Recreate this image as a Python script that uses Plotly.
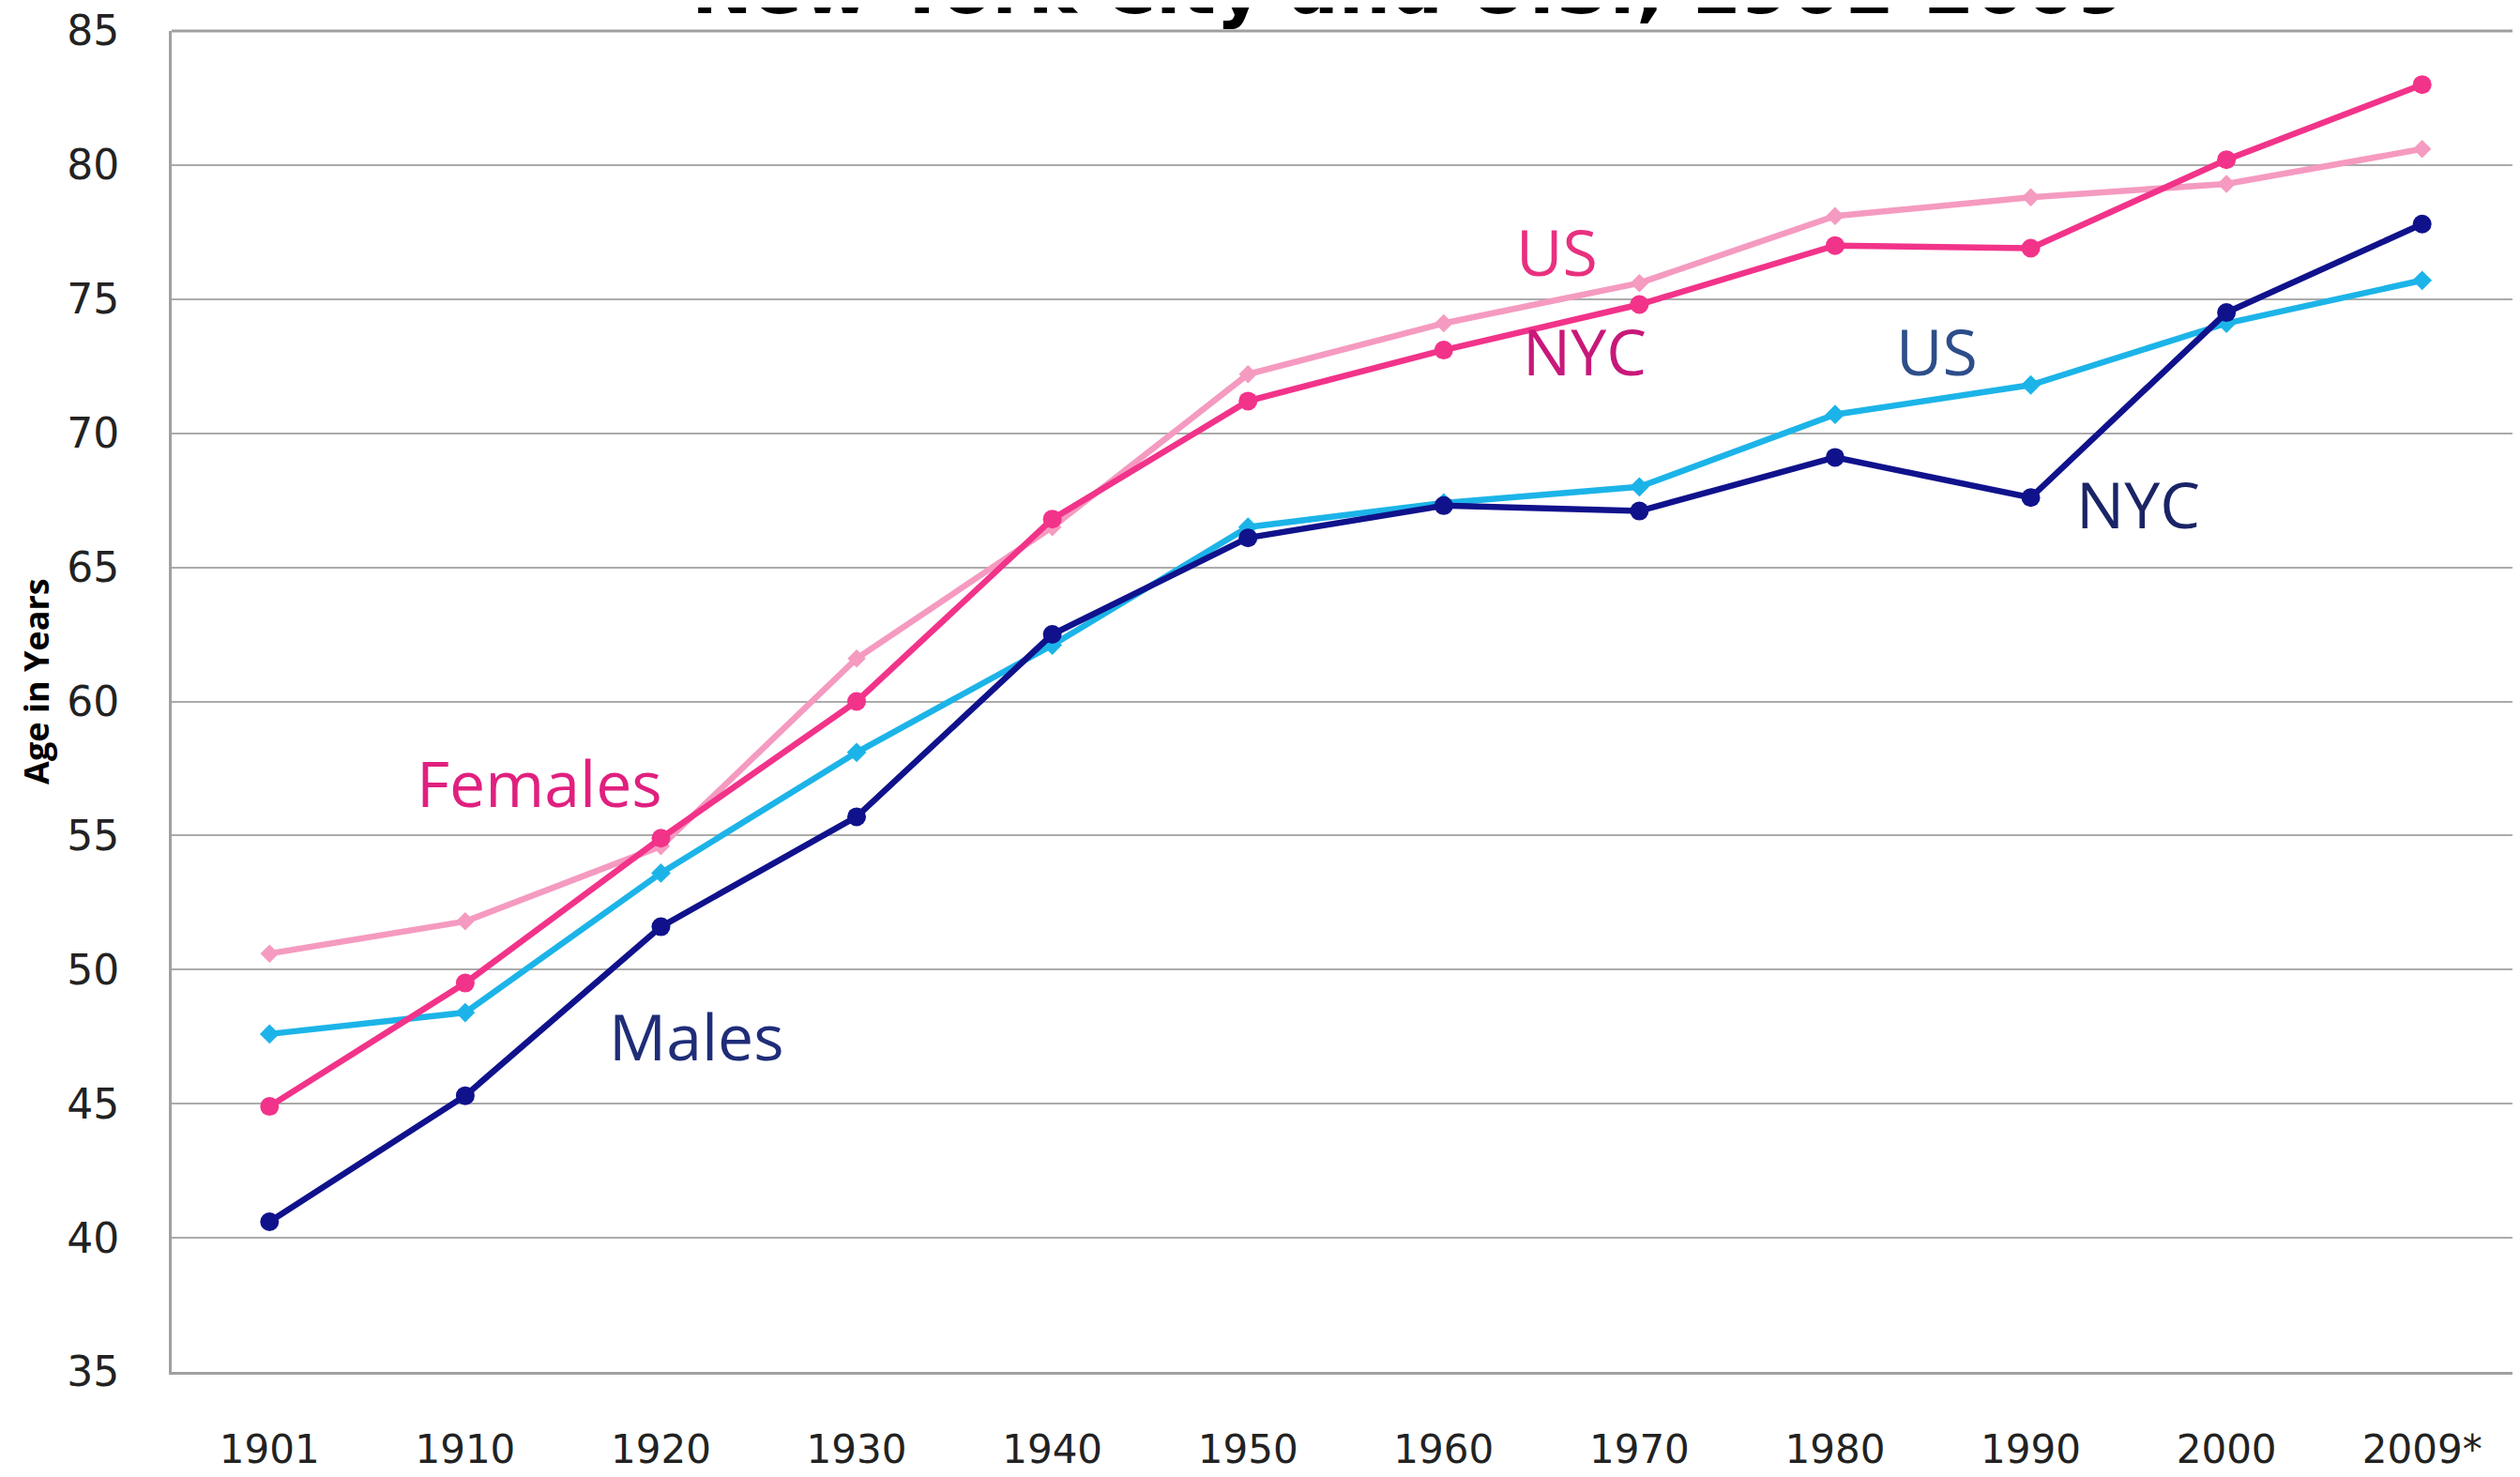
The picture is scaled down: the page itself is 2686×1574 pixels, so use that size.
import plotly.graph_objects as go

years = ["1901", "1910", "1920", "1930", "1940", "1950", "1960", "1970", "1980", "1990", "2000", "2009*"]
males_nyc = [40.6, 45.3, 51.6, 55.7, 62.5, 66.1, 67.3, 67.1, 69.1, 67.6, 74.5, 77.8]
males_us = [47.6, 48.4, 53.6, 58.1, 62.1, 66.5, 67.4, 68.0, 70.7, 71.8, 74.1, 75.7]
females_nyc = [44.9, 49.5, 54.9, 60.0, 66.8, 71.2, 73.1, 74.8, 77.0, 76.9, 80.2, 83.0]
females_us = [50.6, 51.8, 54.6, 61.6, 66.5, 72.2, 74.1, 75.6, 78.1, 78.8, 79.3, 80.6]
y_ticks = [35, 40, 45, 50, 55, 60, 65, 70, 75, 80, 85]

fig = go.Figure()
fig.add_trace(go.Scatter(x=years, y=females_us, mode="lines+markers", name="Females US",
                         line=dict(color="#f59ac0", width=6.5),
                         marker=dict(symbol="diamond", size=15, color="#f59ac0")))
fig.add_trace(go.Scatter(x=years, y=males_us, mode="lines+markers", name="Males US",
                         line=dict(color="#1cb4e8", width=6.5),
                         marker=dict(symbol="diamond", size=16, color="#1cb4e8")))
fig.add_trace(go.Scatter(x=years, y=females_nyc, mode="lines+markers", name="Females NYC",
                         line=dict(color="#f2338a", width=6.5),
                         marker=dict(symbol="circle", size=20, color="#f2338a")))
fig.add_trace(go.Scatter(x=years, y=males_nyc, mode="lines+markers", name="Males NYC",
                         line=dict(color="#10128c", width=6.5),
                         marker=dict(symbol="circle", size=20, color="#10128c")))

labels = [
    ("Females", 1.38, 57.0, "#e0207f"),
    ("Males", 2.18, 47.55, "#1f2d78"),
    ("US", 6.58, 76.8, "#e8307f"),
    ("NYC", 6.72, 73.1, "#c8187a"),
    ("US", 8.52, 73.1, "#2d4e8a"),
    ("NYC", 9.55, 67.4, "#1a2466"),
]
for text, xi, yv, col in labels:
    fig.add_annotation(x=xi, y=yv, xref="x", yref="y", text=text, showarrow=False,
                       font=dict(family="Open Sans", size=68, color=col),
                       xanchor="center", yanchor="middle")

fig.add_annotation(x=0.527, y=0.999, xref="paper", yref="paper",
                   text="<b>New York City and U.S., 1901-2009</b>", showarrow=False,
                   font=dict(family="DejaVu Sans", size=78, color="#000000"),
                   xanchor="center", yanchor="bottom")
fig.add_annotation(x=-0.058, y=0.515, xref="paper", yref="paper",
                   text="<b>Age in Years</b>", showarrow=False, textangle=-90,
                   font=dict(family="Open Sans", size=36, color="#000000"),
                   xanchor="center", yanchor="middle")

fig.update_layout(
    width=2678, height=1566,
    margin=dict(l=175, r=0, t=25, b=112),
    paper_bgcolor="white", plot_bgcolor="white",
    showlegend=False,
    xaxis=dict(type="category", range=[-0.5, 11.5], showgrid=False, automargin=False,
               showline=True, linecolor="#a0a0a0", linewidth=3,
               ticks="", tickfont=dict(family="DejaVu Sans", size=42, color="#222222"),
               ticklabelstandoff=44, ticklabeloverflow="allow"),
    yaxis=dict(range=[35, 85], tickvals=y_ticks, showgrid=True, gridcolor="#ababab", gridwidth=2,
               showline=True, linecolor="#a0a0a0", linewidth=3, mirror=False, zeroline=False,
               automargin=False, ticklabeloverflow="allow",
               ticks="", tickfont=dict(family="DejaVu Sans", size=44, color="#222222"),
               ticklabelstandoff=44),
)
fig.add_shape(type="line", xref="paper", yref="paper", x0=0, x1=1, y0=1, y1=1,
              line=dict(color="#a0a0a0", width=3))

fig.write_html("out.html")
